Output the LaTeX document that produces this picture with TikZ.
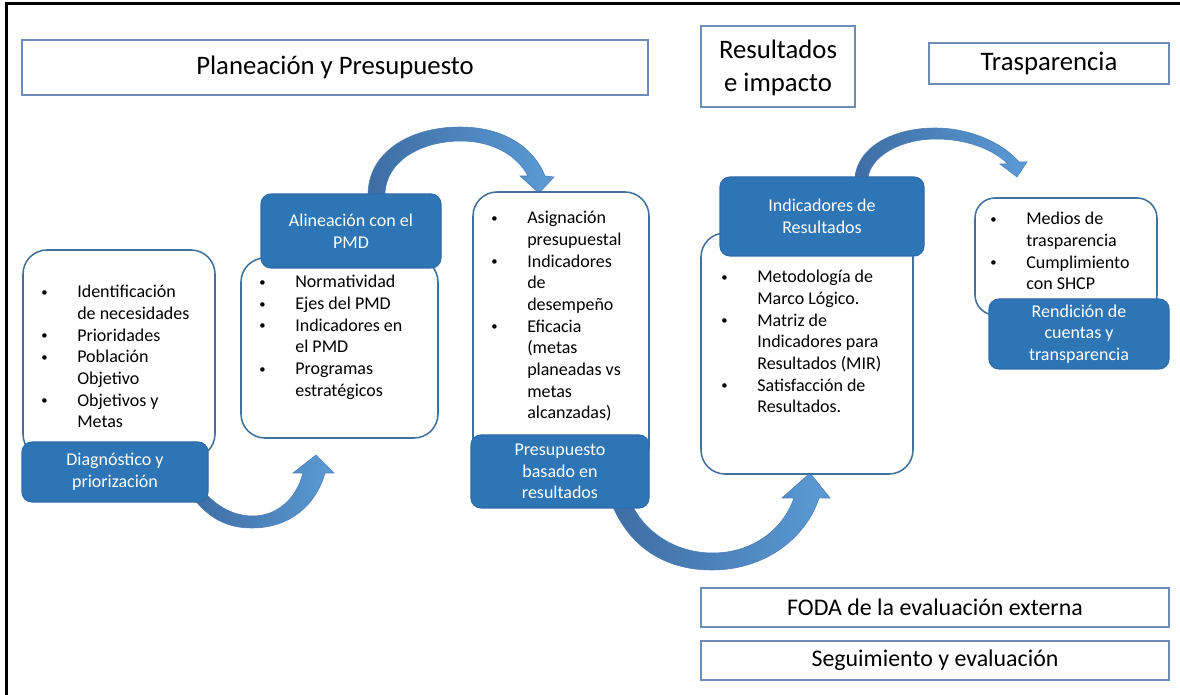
\documentclass[tikz,border=0pt]{standalone}
\usepackage{fontspec}
\setmainfont{Carlito}
\usetikzlibrary{fit}
\definecolor{dkblue}{HTML}{2E75B6}
\definecolor{dkedge}{HTML}{2F6BA8}
\definecolor{wedge}{HTML}{41719C}
\definecolor{tedge}{HTML}{6D8DB6}
\definecolor{arrA}{HTML}{3E6DA3}
\definecolor{arrB}{HTML}{5B9BD5}
\definecolor{arrE}{HTML}{4A7EB8}
\newcommand{\ttlfont}{\fontsize{19}{22.8}\selectfont}
\newcommand{\botfont}{\fontsize{17}{20}\selectfont}
\newcommand{\lstfont}{\fontsize{12.8}{15.4}\selectfont}
\newcommand{\blst}[1]{\begin{tabular}[t]{@{}p{0.9cm}@{}l@{}}#1\end{tabular}}
\newcommand{\bu}{\raisebox{0.08em}{\small\textbullet}}
\begin{document}
\begin{tikzpicture}[x=0.025cm,y=-0.025cm,
  topbox/.style={draw=tedge,line width=1.2pt,fill=white,inner sep=0pt},
  listbox/.style={draw=wedge,line width=1.1pt,fill=white,rounded corners=0.6cm,inner sep=0pt},
  darkbox/.style={draw=dkedge,line width=0.8pt,fill=dkblue,rounded corners=0.25cm,inner sep=0pt},
  darktext/.style={inner sep=0pt,text=white,align=center,font=\lstfont},
  ttltext/.style={inner sep=0pt,align=center,font=\ttlfont},
  bottext/.style={inner sep=0pt,align=center,font=\botfont},
  listtext/.style={anchor=base west,inner sep=0pt,font=\lstfont},
  barrow/.style={left color=arrA,right color=arrB,draw=arrE,line width=0.4pt}]
\useasboundingbox (0,0) rectangle (1180,695);
\fill[white] (0,0) rectangle (1180,695);
\draw[line width=2.2pt] (6.5,695) -- (6.5,3.5) -- (1180,3.5);

% top and bottom title boxes
\node[topbox,fit={(22,40)(648,95)}] (plan) {};
\node[ttltext] (plant) at (plan.center) {Planeación y Presupuesto};
\node[topbox,fit={(701,26)(855,107)}] (res) {};
\node[ttltext] (rest) at ([yshift=-1]res.center) {Resultados\\e impacto};
\node[topbox,fit={(929,43)(1169,84)}] (tras) {};
\node[ttltext] (trast) at (tras.center) {Trasparencia};
\node[topbox,fit={(701,588)(1169,627)}] (foda) {};
\node[bottext] (fodat) at (foda.center) {FODA de la evaluación externa};
\node[topbox,fit={(701,641)(1169,680)}] (seg) {};
\node[bottext] (segt) at (seg.center) {Seguimiento y evaluación};

% curved block arrows
\path[barrow] (194,499) .. controls (212,522) and (232,528) .. (252,528)
  .. controls (290,528) and (316,505) .. (325,473) -- (334,473) -- (316,455) -- (293,473) -- (303,473)
  .. controls (296,500) and (276,516) .. (253,516) .. controls (235,516) and (220,508) .. (208,496) -- cycle;
\path[barrow] (368,195) .. controls (368,152) and (410,127) .. (460,127)
  .. controls (502,127) and (533,146) .. (545,176) -- (554,177) -- (539,193) -- (520,176) -- (528,176)
  .. controls (517,155) and (492,141) .. (461,141) .. controls (420,141) and (385,162) .. (385,195) -- cycle;
\path[barrow] (613,507) .. controls (632,550) and (668,570) .. (712,570)
  .. controls (765,570) and (806,538) .. (819,498) -- (830,498) -- (810,473) -- (782,498) -- (794,498)
  .. controls (782,532) and (750,553) .. (713,553) .. controls (678,553) and (648,535) .. (633,507) -- cycle;
\path[barrow] (855,177) .. controls (858,147) and (893,128) .. (935,128)
  .. controls (970,128) and (1003,143) .. (1019,162) -- (1027,162) -- (1017,177) -- (1000,164) -- (1008,164)
  .. controls (993,149) and (966,139) .. (936,139) .. controls (902,139) and (872,155) .. (868,177) -- cycle;

% white list boxes
\node[listbox,fit={(23,250)(215,458)}] (w1) {};
\node[listbox,fit={(241,258)(438,438)}] (w2) {};
\node[listbox,fit={(473,192)(649,470)}] (w3) {};
\node[listbox,fit={(701,233)(913,474)}] (w4) {};
\node[listbox,rounded corners=0.5cm,fit={(975,198)(1157,315)}] (w5) {};

% list texts
\node[listtext] (l1) at (41,298) {\blst{\bu & Identificación\\ & de necesidades\\ \bu & Prioridades\\ \bu & Población\\ & Objetivo\\ \bu & Objetivos y\\ & Metas}};
\node[listtext] (l2) at (259,288) {\blst{\bu & Normatividad\\ \bu & Ejes del PMD\\ \bu & Indicadores en\\ & el PMD\\ \bu & Programas\\ & estratégicos}};
\node[listtext] (l3) at (491,224) {\blst{\bu & Asignación\\ & presupuestal\\ \bu & Indicadores\\ & de\\ & desempeño\\ \bu & Eficacia\\ & (metas\\ & planeadas vs\\ & metas\\ & alcanzadas)}};
\node[listtext] (l4) at (721,283) {\blst{\bu & Metodología de\\ & Marco Lógico.\\ \bu & Matriz de\\ & Indicadores para\\ & Resultados (MIR)\\ \bu & Satisfacción de\\ & Resultados.}};
\node[listtext] (l5) at (990,225) {\blst{\bu & Medios de\\ & trasparencia\\ \bu & Cumplimiento\\ & con SHCP}};

% dark title boxes
\node[darkbox,fit={(22,442)(208,502)}] (d1) {};
\node[darktext] (d1t) at (d1.center) {Diagnóstico y\\priorización};
\node[darkbox,fit={(261,194)(441,268)}] (d2) {};
\node[darktext] (d2t) at (d2.center) {Alineación con el\\PMD};
\node[darkbox,fit={(471,435)(649,508)}] (d3) {};
\node[darktext] (d3t) at (d3.center) {Presupuesto\\basado en\\resultados};
\node[darkbox,fit={(720,177)(924,256)}] (d4) {};
\node[darktext] (d4t) at (d4.center) {Indicadores de\\Resultados};
\node[darkbox,fit={(989,299)(1169,369)}] (d5) {};
\node[darktext] (d5t) at (d5.center) {Rendición de\\cuentas y\\transparencia};
\end{tikzpicture}
\end{document}
